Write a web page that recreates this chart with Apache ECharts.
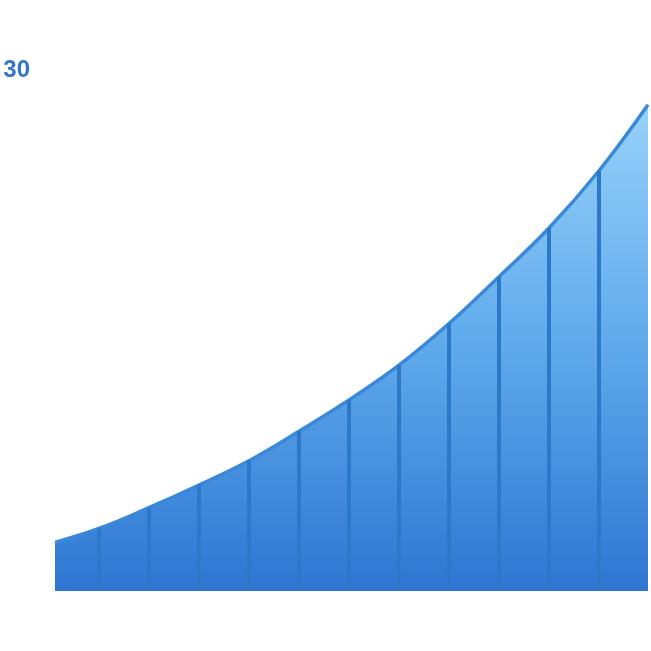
<!DOCTYPE html>
<html>
<head>
<meta charset="utf-8">
<script src="https://cdn.jsdelivr.net/npm/echarts@6/dist/echarts.min.js"></script>
<style>html,body{margin:0;padding:0;background:#fff}#c{width:651px;height:651px}</style>
</head>
<body>
<div id="c"></div>
<script>
// Data
var xPositions = [0.12, 1, 2, 3, 4, 5, 6, 7, 8, 9, 10, 11, 11.98];
var values = [2.8, 3.6, 4.8, 6.1, 7.5, 9.2, 11.0, 13.0, 15.4, 18.1, 20.9, 24.2, 28.0];
var dividerIdx = [1, 2, 3, 4, 5, 6, 7, 8, 9, 10, 11];
var yTicks = [0, 30];

var curveData = xPositions.map(function (x, i) { return [x, values[i]]; });
var dividerData = dividerIdx.map(function (i) { return [xPositions[i], values[i]]; });

var chart = echarts.init(document.getElementById('c'));
chart.setOption({
  animation: false,
  grid: { left: 49, right: 2, top: 70, bottom: 60 },
  xAxis: { type: 'value', min: 0, max: 12, show: false },
  yAxis: {
    type: 'value', min: yTicks[0], max: yTicks[1], interval: 30,
    axisLine: { show: false }, axisTick: { show: false }, splitLine: { show: false },
    axisLabel: {
      showMinLabel: false, margin: 19,
      color: '#3476cc', fontWeight: 'bold', fontSize: 24, fontFamily: 'Liberation Sans'
    }
  },
  series: [
    {
      type: 'line', data: curveData, smooth: 0.4, symbol: 'none',
      lineStyle: { color: '#3a88d8', width: 3.5 },
      areaStyle: {
        opacity: 1,
        color: new echarts.graphic.LinearGradient(0, 0, 0, 1, [
          { offset: 0, color: '#96d2fa' },
          { offset: 0.5, color: '#5fa9eb' },
          { offset: 1, color: '#2e76d2' }
        ])
      },
      z: 2
    },
    {
      type: 'bar', data: dividerData, barWidth: 4,
      itemStyle: { color: '#2d79c9' }, z: 3
    }
  ]
});
</script>
</body>
</html>
